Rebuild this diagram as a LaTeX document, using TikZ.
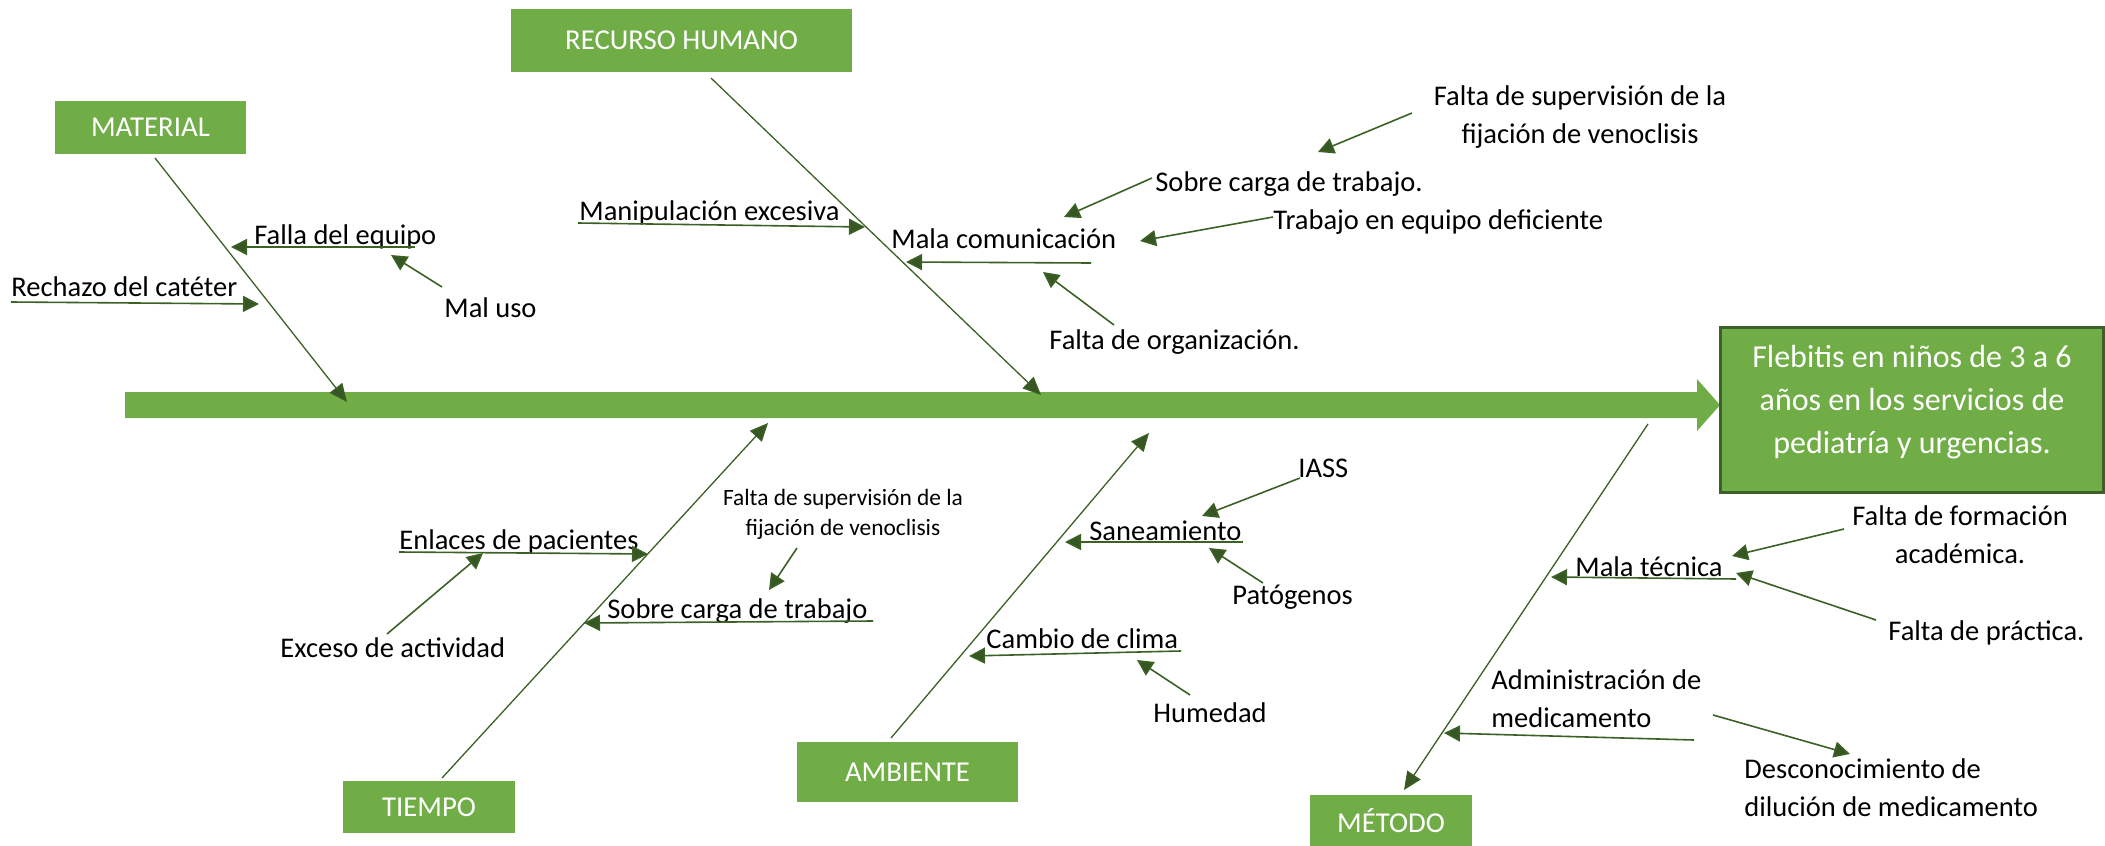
\documentclass[tikz,border=0pt]{standalone}
\usepackage{fontspec}
\setmainfont{Carlito}
\usetikzlibrary{arrows.meta}
\definecolor{boxgreen}{HTML}{70AD47}
\definecolor{linegreen}{HTML}{3B6125}
\definecolor{headgreen}{HTML}{375623}
\definecolor{bordergreen}{HTML}{3D6128}
\begin{document}
\begin{tikzpicture}[x=0.5pt,y=-0.5pt,
  catbox/.style={fill=boxgreen, text=white, font=\fontsize{14.4pt}{17pt}\selectfont, inner sep=0pt},
  lbl/.style={font=\fontsize{14.25pt}{18.75pt}\selectfont, inner sep=0pt, anchor=base west},
  clbl/.style={font=\fontsize{14.25pt}{18.75pt}\selectfont, inner sep=0pt, anchor=base, align=center},
  llbl/.style={font=\fontsize{14.25pt}{18.75pt}\selectfont, inner sep=0pt, anchor=base west, align=left},
  smalllbl/.style={font=\fontsize{11.7pt}{15pt}\selectfont, inner sep=0pt, anchor=base, align=center},
  bone/.style={draw=linegreen, line width=0.65pt, -{Triangle[length=9pt,width=8pt,fill=headgreen]}},
  twig/.style={draw=linegreen, line width=0.8pt, -{Triangle[length=8pt,width=8pt,fill=headgreen]}}
]
\useasboundingbox (0,0) rectangle (2105,846);
\fill[white] (0,0) rectangle (2105,846);

% spine
\fill[boxgreen] (125,392) -- (1697,392) -- (1697,379) -- (1720,405) -- (1697,431) -- (1697,418) -- (125,418) -- cycle;

% effect box
\node[draw=bordergreen, line width=1.5pt, fill=boxgreen, minimum width=191.5pt, minimum height=82.5pt, inner sep=0pt] (effect) at (1911.5,409.5) {};
\node[font=\fontsize{16pt}{21.5pt}\selectfont, text=white, align=center, inner sep=0pt, anchor=base] (efftext) at (1912,453)
  {Flebitis en niños de 3 a 6\\años en los servicios de\\pediatría y urgencias.};

% category boxes
\node[catbox, minimum width=95.5pt, minimum height=26.5pt] (material) at (150.5,127.5) {MATERIAL};
\node[catbox, minimum width=170.5pt, minimum height=31.5pt] (rh) at (681.5,40.5) {RECURSO HUMANO};
\node[catbox, minimum width=86pt, minimum height=26pt] (tiempo) at (429,807) {TIEMPO};
\node[catbox, minimum width=110.5pt, minimum height=30pt] (ambiente) at (907.5,772) {AMBIENTE};
\node[catbox, minimum width=81pt, minimum height=25.5pt] (metodo) at (1391,820.5) {MÉTODO};

% bone coordinates
\coordinate (matS) at (155,158);  \coordinate (matE) at (347,402);
\coordinate (rhS) at (711,78);    \coordinate (rhE) at (1041,395);
\coordinate (tiS) at (442,778);   \coordinate (tiE) at (768,423);
\coordinate (amS) at (891,738);   \coordinate (amE) at (1149,433);
\coordinate (meS) at (1648,424);  \coordinate (meE) at (1404,790);
\draw[bone] (matS) -- (matE);
\draw[bone] (rhS) -- (rhE);
\draw[bone] (tiS) -- (tiE);
\draw[bone] (amS) -- (amE);
\draw[bone] (meS) -- (meE);

% ---------- MATERIAL ----------
\node[lbl] (rechazo) at (11,296) {Rechazo del catéter};
\coordinate (rechazoS) at (11,302); \coordinate (rechazoE) at (259,304);
\draw[twig] (rechazoS) -- (rechazoE);
\node[lbl] (falla) at (254,244) {Falla del equipo};
\coordinate (fallaS) at (415,247); \coordinate (fallaE) at (231,247);
\draw[twig] (fallaS) -- (fallaE);
\node[lbl] (maluso) at (444,317) {Mal uso};
\coordinate (malusoS) at (442,287); \coordinate (malusoE) at (391,255);
\draw[twig] (malusoS) -- (malusoE);

% ---------- RECURSO HUMANO ----------
\node[lbl] (manip) at (579,220) {Manipulación excesiva};
\coordinate (manipS) at (578,223); \coordinate (manipE) at (865,227);
\draw[twig] (manipS) -- (manipE);
\node[lbl] (malacom) at (891,248) {Mala comunicación};
\coordinate (malacomS) at (1091,263); \coordinate (malacomE) at (906,262);
\draw[twig] (malacomS) -- (malacomE);
\node[lbl] (sobrecarga1) at (1155,191) {Sobre carga de trabajo.};
\coordinate (sobre1S) at (1152,178); \coordinate (sobre1E) at (1064,217);
\draw[twig] (sobre1S) -- (sobre1E);
\node[lbl] (trabajo) at (1273,229) {Trabajo en equipo deficiente};
\coordinate (trabS) at (1273,217); \coordinate (trabE) at (1140,241);
\draw[twig] (trabS) -- (trabE);
\node[clbl] (superv1) at (1580,143) {Falta de supervisión de la\\fijación de venoclisis};
\coordinate (sup1S) at (1412,113); \coordinate (sup1E) at (1318,152);
\draw[twig] (sup1S) -- (sup1E);
\node[lbl] (organiz) at (1049,349) {Falta de organización.};
\coordinate (orgS) at (1114,325); \coordinate (orgE) at (1043,272);
\draw[twig] (orgS) -- (orgE);

% ---------- TIEMPO ----------
\node[lbl] (enlaces) at (399,549) {Enlaces de pacientes};
\coordinate (enlS) at (399,552); \coordinate (enlE) at (648,554);
\draw[twig] (enlS) -- (enlE);
\node[lbl] (exceso) at (280,657) {Exceso de actividad};
\coordinate (excS) at (387,634); \coordinate (excE) at (483,553);
\draw[twig] (excS) -- (excE);
\node[lbl] (sobrecarga2) at (607,618) {Sobre carga de trabajo};
\coordinate (sob2S) at (873,621); \coordinate (sob2E) at (584,623);
\draw[twig] (sob2S) -- (sob2E);
\node[smalllbl] (superv2) at (843,535) {Falta de supervisión de la\\fijación de venoclisis};
\coordinate (sup2S) at (797,548); \coordinate (sup2E) at (769,590);
\draw[twig] (sup2S) -- (sup2E);

% ---------- AMBIENTE ----------
\node[lbl] (sanea) at (1089,540) {Saneamiento};
\coordinate (sanS) at (1243,542); \coordinate (sanE) at (1065,542);
\draw[twig] (sanS) -- (sanE);
\node[lbl] (iass) at (1298,477) {IASS};
\coordinate (iassS) at (1300,478); \coordinate (iassE) at (1202,516);
\draw[twig] (iassS) -- (iassE);
\node[lbl] (patog) at (1232,604) {Patógenos};
\coordinate (patS) at (1263,583); \coordinate (patE) at (1209,548);
\draw[twig] (patS) -- (patE);
\node[lbl] (clima) at (986,648) {Cambio de clima};
\coordinate (climS) at (1181,651); \coordinate (climE) at (969,656);
\draw[twig] (climS) -- (climE);
\node[lbl] (humedad) at (1153,722) {Humedad};
\coordinate (humS) at (1190,695); \coordinate (humE) at (1137,660);
\draw[twig] (humS) -- (humE);

% ---------- MÉTODO ----------
\node[lbl] (malatec) at (1575,576) {Mala técnica};
\coordinate (tecS) at (1736,579); \coordinate (tecE) at (1551,577);
\draw[twig] (tecS) -- (tecE);
\node[clbl] (formacion) at (1960,563) {Falta de formación\\académica.};
\coordinate (forS) at (1844,529); \coordinate (forE) at (1732,556);
\draw[twig] (forS) -- (forE);
\node[lbl] (practica) at (1888,640) {Falta de práctica.};
\coordinate (praS) at (1876,620); \coordinate (praE) at (1736,573);
\draw[twig] (praS) -- (praE);
\node[llbl] (admin) at (1491,727) {Administración de\\medicamento};
\coordinate (admS) at (1694,740); \coordinate (admE) at (1444,733);
\draw[twig] (admS) -- (admE);
\node[llbl] (descon) at (1744,816) {Desconocimiento de\\dilución de medicamento};
\coordinate (desS) at (1713,715); \coordinate (desE) at (1850,754);
\draw[twig] (desS) -- (desE);
\end{tikzpicture}
\end{document}
